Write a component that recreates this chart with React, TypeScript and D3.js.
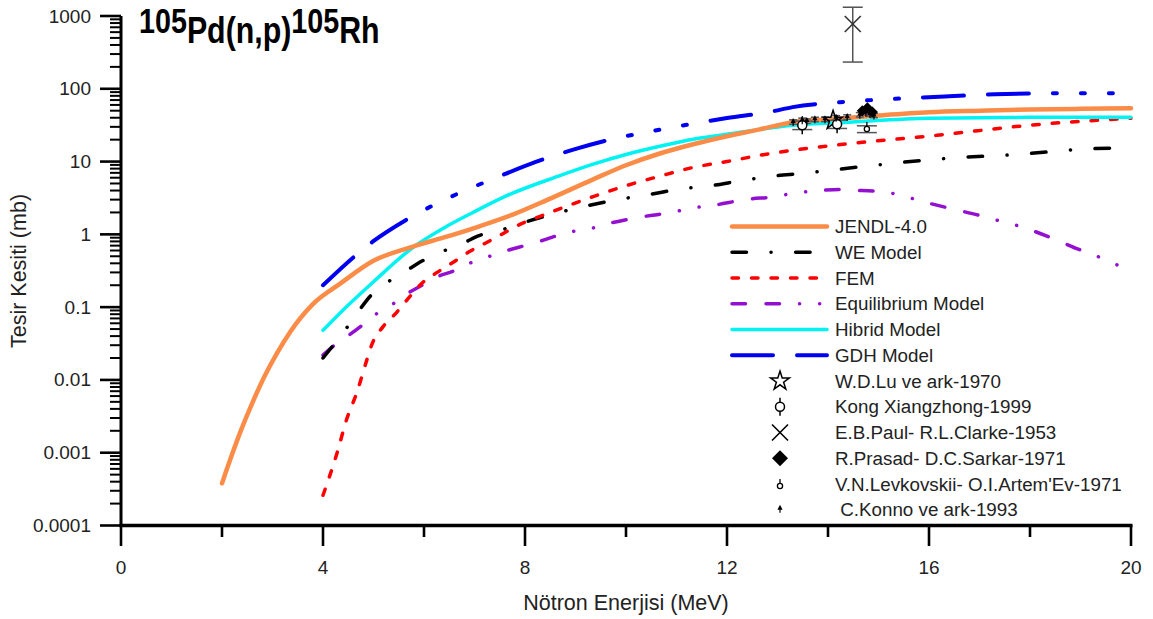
import React from "react";
import * as d3 from "d3";

// ---- evaluated / model curves (energy in MeV, cross-section in mb) ----
const jendlE = [2, 2.2, 2.36, 2.61, 2.85, 3.09, 3.35, 3.8, 4.34, 4.99, 5.78, 6.45, 7.1, 7.77, 8.43, 9.35, 10.0, 10.67, 11.33, 12.0, 12.65, 13.3, 14.0, 15, 16, 17, 18, 19, 20];
const jendlV = [0.00038, 0.00095, 0.0019, 0.005, 0.0115, 0.0234, 0.0457, 0.11, 0.21, 0.43, 0.68, 0.93, 1.29, 1.88, 2.95, 5.7, 8.9, 12.9, 17.3, 22.3, 27.7, 34.8, 38, 43, 47.6, 50, 52, 53, 54];

const weE = [4, 4.47, 4.73, 4.93, 5.28, 5.66, 5.96, 6.36, 6.77, 7.05, 7.5, 8.04, 9.09, 9.88, 10.48, 11.07, 11.72, 12.3, 12.9, 13.5, 14.18, 16.38, 17.8, 19.03, 20];
const weV = [0.02, 0.052, 0.093, 0.14, 0.22, 0.32, 0.43, 0.58, 0.75, 0.94, 1.13, 1.5, 2.35, 3.03, 3.55, 4.2, 4.7, 5.5, 6.3, 6.9, 7.8, 11.1, 12.6, 14.8, 15.5];

const femE = [4, 4.28, 4.47, 4.67, 4.87, 4.97, 5.19, 5.46, 5.68, 5.98, 6.26, 6.57, 6.9, 7.25, 7.57, 7.9, 8.3, 9.35, 10.02, 10.67, 11.33, 12.0, 12.65, 13.3, 14.3, 16.16, 18.0, 20];
const femV = [0.00026, 0.001, 0.0029, 0.0067, 0.019, 0.031, 0.054, 0.085, 0.13, 0.22, 0.3, 0.41, 0.58, 0.78, 1.03, 1.37, 1.77, 3.3, 4.7, 6.3, 8.3, 10, 12.2, 14.3, 17.3, 23, 31.6, 39.4];

const eqE = [4, 4.2, 4.53, 4.77, 5.07, 5.38, 5.68, 5.96, 6.28, 6.57, 6.9, 7.23, 7.57, 7.86, 8.24, 8.53, 8.83, 9.23, 9.68, 10.38, 10.91, 11.27, 11.72, 12.4, 12.95, 13.3, 13.84, 14.3, 14.67, 15.0, 15.37, 15.86, 16.5, 17.0, 17.37, 17.86, 18.5, 18.97, 19.33, 19.82, 20];
const eqV = [0.022, 0.029, 0.042, 0.056, 0.082, 0.11, 0.155, 0.2, 0.265, 0.31, 0.4, 0.48, 0.58, 0.66, 0.78, 0.91, 1.06, 1.17, 1.42, 1.77, 2.0, 2.28, 2.5, 3.03, 3.3, 3.65, 4.0, 4.15, 4.0, 3.9, 3.55, 2.84, 2.2, 1.82, 1.55, 1.25, 0.85, 0.62, 0.5, 0.36, 0.33];

const hibE = [4, 4.47, 4.99, 5.78, 6.45, 6.97, 7.64, 8.69, 9.35, 10.02, 10.67, 11.33, 12.0, 12.65, 13.3, 14.4, 16, 18, 20];
const hibV = [0.048, 0.102, 0.22, 0.66, 1.29, 2.0, 3.4, 6.4, 9.2, 12.6, 16.2, 20.3, 23.7, 27.7, 31.6, 34.8, 39.5, 40.5, 40.7];

const gdhE = [4, 4.67, 4.99, 5.66, 6.5, 7.5, 8.2, 8.99, 9.88, 10.38, 10.93, 11.5, 12.0, 12.9, 13.3, 14.24, 15.2, 16.4, 17.3, 18.65, 20];
const gdhV = [0.2, 0.53, 0.8, 1.6, 3.2, 6.3, 9.8, 14.8, 21.5, 25.2, 29.6, 34.7, 39.6, 49, 56, 65.5, 72, 79, 84, 87, 87];

// ---- experimental data ----
const luE = [14.1];
const luV = [37];

const kongE = [13.49, 14.18];
const kongV = [31.5, 32.5];
const kongLo = [27.5, 28.5];
const kongHi = [36, 37];

const paulE = [14.49];
const paulV = [775];
const paulLo = [233];
const paulHi = [1320];

const prasadE = [14.68, 14.78, 14.88];
const prasadV = [50, 55, 48];

const levkE = [14.77];
const levkV = [28];
const levkLo = [25];
const levkHi = [31];

const konnoE = [13.31, 13.49, 13.58, 13.74, 13.94, 14.16, 14.38, 14.63, 14.75, 14.83, 14.91];
const konnoV = [35, 37, 36, 38, 38, 40, 41, 44, 47, 45, 43];

// ---- axis ticks ----
const xMajor = [0, 4, 8, 12, 16, 20];
const xMinor = [2, 6, 10, 14, 18];
const yMajor = [1e-4, 1e-3, 1e-2, 1e-1, 1, 10, 100, 1000];
const yLabels = ["0.0001", "0.001", "0.01", "0.1", "1", "10", "100", "1000"];

const curveNames = ["JENDL-4.0", "WE Model", "FEM", "Equilibrium Model", "Hibrid Model", "GDH Model"];
const expNames = [
  "W.D.Lu ve ark-1970",
  "Kong Xiangzhong-1999",
  "E.B.Paul- R.L.Clarke-1953",
  "R.Prasad- D.C.Sarkar-1971",
  "V.N.Levkovskii- O.I.Artem'Ev-1971",
  " C.Konno ve ark-1993",
];

const FONT = "'Liberation Sans', Arial, Helvetica, sans-serif";

type Style = { color: string; width: number; dash?: string };
const styles: Style[] = [
  { color: "#FA8C48", width: 4.5 },
  { color: "#000000", width: 3.5, dash: "14.5 24.5 0.1 24.5" },
  { color: "#FF0000", width: 3.5, dash: "6.5 13" },
  { color: "#9410D0", width: 3.5, dash: "13.5 20.5 13.5 20 0.1 20 0.1 20" },
  { color: "#00F2F2", width: 3.5 },
  { color: "#0000F0", width: 4, dash: "41 24 41 24 4 24 4 24 4 24" },
];

export default function App() {
  const x = d3.scaleLinear().domain([0, 20]).range([121, 1131]);
  const y = d3.scaleLog().domain([1e-4, 1e3]).range([525.5, 16]);

  const line = d3
    .line<[number, number]>()
    .x((d) => x(d[0]))
    .y((d) => y(d[1]))
    .curve(d3.curveMonotoneX);

  const zip = (e: number[], v: number[]) => e.map((ei, i) => [ei, v[i]] as [number, number]);
  const series = [
    zip(jendlE, jendlV),
    zip(weE, weV),
    zip(femE, femV),
    zip(eqE, eqV),
    zip(hibE, hibV),
    zip(gdhE, gdhV),
  ];
  // draw order: cyan under orange
  const order = [5, 3, 1, 2, 4, 0];

  const yMinor: number[] = [];
  for (let p = -4; p < 3; p++) for (let k = 2; k <= 9; k++) yMinor.push(k * Math.pow(10, p));

  const star = d3.symbol(d3.symbolStar, 110)() as string;
  const diamond = (cx: number, cy: number, r: number) =>
    `M${cx},${cy - r}L${cx + r},${cy}L${cx},${cy + r}L${cx - r},${cy}Z`;

  const errBar = (cx: number, lo: number, hi: number, cap: number, key: string) => (
    <g key={key} stroke="#555" strokeWidth={1.5}>
      <line x1={cx} x2={cx} y1={lo} y2={hi} />
      <line x1={cx - cap / 2} x2={cx + cap / 2} y1={lo} y2={lo} />
      <line x1={cx - cap / 2} x2={cx + cap / 2} y1={hi} y2={hi} />
    </g>
  );

  // marker drawing functions for the six experimental sets
  const mLu = (cx: number, cy: number, k: string) => (
    <path key={k} d={star} transform={`translate(${cx},${cy})`} fill="none" stroke="#000" strokeWidth={1.5} />
  );
  const mKong = (cx: number, cy: number, k: string) => (
    <g key={k} stroke="#000" strokeWidth={1.5} fill="none">
      <line x1={cx} x2={cx} y1={cy - 9} y2={cy + 9} />
      <circle cx={cx} cy={cy} r={4.5} fill="#fff" />
    </g>
  );
  const mPaul = (cx: number, cy: number, k: string, c = "#333") => (
    <g key={k} stroke={c} strokeWidth={1.6}>
      <line x1={cx - 8} x2={cx + 8} y1={cy - 8} y2={cy + 8} />
      <line x1={cx - 8} x2={cx + 8} y1={cy + 8} y2={cy - 8} />
    </g>
  );
  const mPrasad = (cx: number, cy: number, k: string, r = 7) => <path key={k} d={diamond(cx, cy, r)} fill="#000" />;
  const mLevk = (cx: number, cy: number, k: string) => (
    <g key={k} stroke="#000" strokeWidth={1.3} fill="#fff">
      <line x1={cx} x2={cx} y1={cy - 7} y2={cy - 2} />
      <circle cx={cx} cy={cy} r={2.6} />
    </g>
  );
  const mKonno = (cx: number, cy: number, k: string) => (
    <g key={k}>
      <line x1={cx} x2={cx} y1={cy} y2={cy + 4} stroke="#000" strokeWidth={1.2} />
      <path d={`M${cx},${cy - 4}L${cx + 2.6},${cy + 1}L${cx - 2.6},${cy + 1}Z`} fill="#000" />
    </g>
  );

  const legX0 = 732;
  const legX1 = 827;
  const legText = 835;
  const legY0 = 226.5;
  const legStep = 25.75;

  return (
    <svg
      width={1153}
      height={619}
      style={{ position: "absolute", left: 0, top: 0, background: "#fff" }}
      fontFamily={FONT}
    >
      <rect width={1153} height={619} fill="#fff" />

      {/* title */}
      <g transform="translate(139,0) scale(0.82,1)" fontWeight="bold" fill="#000">
        <text y={43}>
          <tspan fontSize={35} dy={-10}>105</tspan>
          <tspan fontSize={37} dy={10}>Pd(n,p)</tspan>
          <tspan fontSize={35} dy={-10}>105</tspan>
          <tspan fontSize={37} dy={10}>Rh</tspan>
        </text>
      </g>

      {/* curves */}
      <g fill="none" strokeLinecap="round" strokeLinejoin="round">
        {order.map((i) => (
          <path
            key={curveNames[i]}
            d={line(series[i]) as string}
            stroke={styles[i].color}
            strokeWidth={styles[i].width}
            strokeDasharray={styles[i].dash}
          />
        ))}
      </g>

      {/* experimental points */}
      <g>
        {paulE.map((e, i) => errBar(x(e), y(paulLo[i]), y(paulHi[i]), 20, "pe" + i))}
        {paulE.map((e, i) => mPaul(x(e), y(paulV[i]), "p" + i))}
        {kongE.map((e, i) => errBar(x(e), y(kongLo[i]), y(kongHi[i]), 20, "ke" + i))}
        {levkE.map((e, i) => errBar(x(e), y(levkLo[i]), y(levkHi[i]), 20, "le" + i))}
        {konnoE.map((e, i) => errBar(x(e), y(konnoV[i] * 0.93), y(konnoV[i] * 1.07), 8, "ce" + i))}
        {prasadE.map((e, i) => mPrasad(x(e), y(prasadV[i]), "r" + i, 5.5))}
        {luE.map((e, i) => mLu(x(e), y(luV[i]), "w" + i))}
        {kongE.map((e, i) => mKong(x(e), y(kongV[i]), "k" + i))}
        {levkE.map((e, i) => mLevk(x(e), y(levkV[i]), "l" + i))}
        {konnoE.map((e, i) => mKonno(x(e), y(konnoV[i]), "c" + i))}
      </g>

      {/* axes */}
      <g stroke="#000" strokeLinecap="butt">
        <line x1={121} x2={121} y1={y(1000)} y2={527} strokeWidth={3} />
        <line x1={119.5} x2={1132.5} y1={525.5} y2={525.5} strokeWidth={3.5} />
        {yMajor.map((v) => (
          <line key={"ym" + v} x1={100} x2={121} y1={y(v)} y2={y(v)} strokeWidth={2.6} />
        ))}
        {yMinor.map((v) => (
          <line key={"yn" + v} x1={110} x2={121} y1={y(v)} y2={y(v)} strokeWidth={2} />
        ))}
        {xMajor.map((v) => (
          <line key={"xm" + v} x1={x(v)} x2={x(v)} y1={525} y2={546} strokeWidth={2.6} />
        ))}
        {xMinor.map((v) => (
          <line key={"xn" + v} x1={x(v)} x2={x(v)} y1={525} y2={537} strokeWidth={2.6} />
        ))}
      </g>
      <g fill="#222" fontSize={19}>
        {yMajor.map((v, i) => (
          <text key={"yl" + v} x={91} y={y(v)} textAnchor="end" dominantBaseline="central">
            {yLabels[i]}
          </text>
        ))}
        {xMajor.map((v) => (
          <text key={"xl" + v} x={x(v)} y={567} textAnchor="middle" dominantBaseline="central">
            {v}
          </text>
        ))}
      </g>
      <text x={626} y={603} textAnchor="middle" dominantBaseline="central" fontSize={21.5} fill="#222">
        Nötron Enerjisi (MeV)
      </text>
      <text
        transform="translate(19,271) rotate(-90)"
        textAnchor="middle"
        dominantBaseline="central"
        fontSize={21.5}
        fill="#222"
      >
        Tesir Kesiti (mb)
      </text>

      {/* legend */}
      <g>
        {curveNames.map((n, i) => {
          const ly = legY0 + i * legStep;
          return (
            <g key={"lg" + n}>
              <line
                x1={legX0}
                x2={legX1}
                y1={ly}
                y2={ly}
                stroke={styles[i].color}
                strokeWidth={styles[i].width}
                strokeDasharray={styles[i].dash}
                strokeLinecap="round"
              />
              <text x={legText} y={ly} dominantBaseline="central" fontSize={18.8} fill="#222">
                {n}
              </text>
            </g>
          );
        })}
        {expNames.map((n, i) => {
          const ly = legY0 + (i + 6) * legStep;
          const cx = 780;
          const markers = [
            () => mLu(cx, ly, "lm0"),
            () => mKong(cx, ly, "lm1"),
            () => mPaul(cx, ly, "lm2", "#000"),
            () => mPrasad(cx, ly, "lm3", 8),
            () => mLevk(cx, ly + 2, "lm4"),
            () => mKonno(cx, ly - 1, "lm5"),
          ];
          return (
            <g key={"le" + i}>
              {markers[i]()}
              <text x={legText} y={ly} dominantBaseline="central" fontSize={18.8} fill="#222" style={{ whiteSpace: "pre" }}>
                {n}
              </text>
            </g>
          );
        })}
      </g>
    </svg>
  );
}
